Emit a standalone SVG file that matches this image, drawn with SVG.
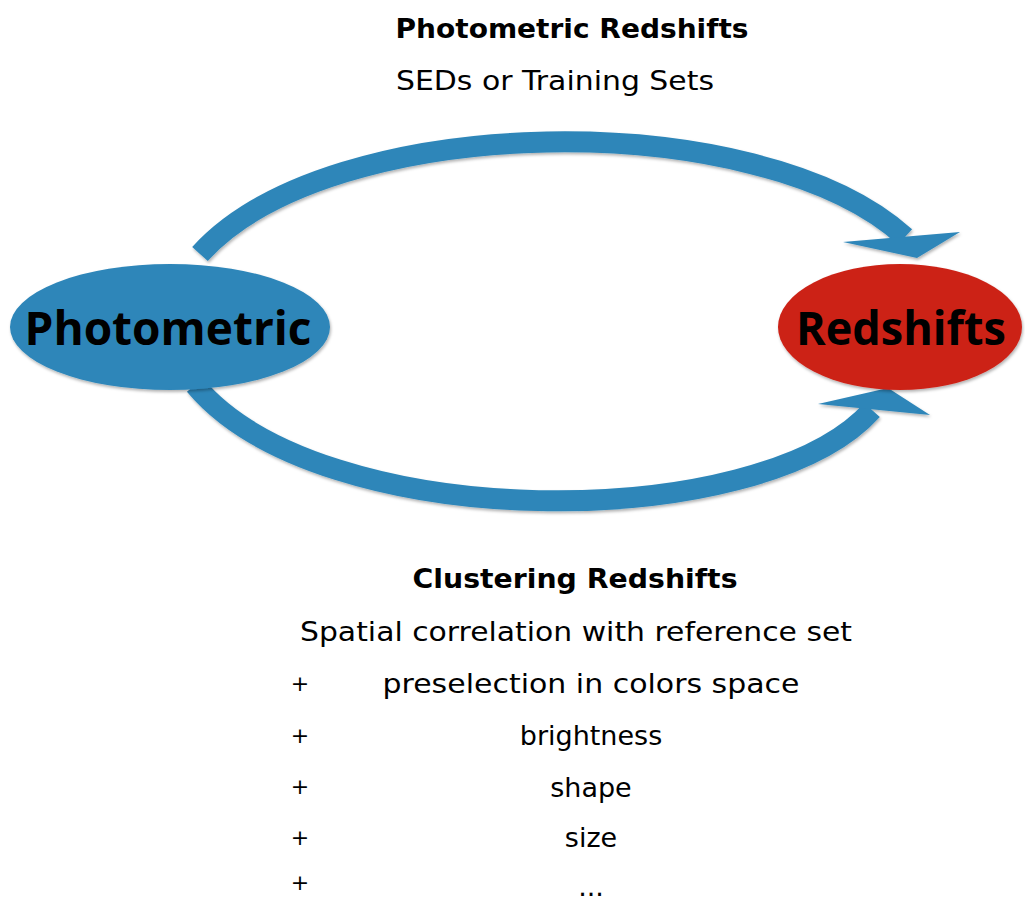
<svg xmlns="http://www.w3.org/2000/svg" width="1025" height="902" viewBox="0 0 1025 902">
<defs>
<filter id="sh" x="-5%" y="-10%" width="110%" height="125%">
<feDropShadow dx="1" dy="2" stdDeviation="1.5" flood-color="#000" flood-opacity="0.3"/>
</filter>
<style>
.arrow{fill:none;stroke:#2e86b9;stroke-width:21;stroke-linecap:butt}
.head{fill:#2e86b9}
.node-label{font-family:"Open Sans","DejaVu Sans",sans-serif;font-weight:bold;font-size:46px;fill:#000;text-anchor:middle}
.title{font-family:"DejaVu Sans","Liberation Sans",sans-serif;font-weight:bold;font-size:27px;fill:#000;text-anchor:middle}
.body{font-family:"DejaVu Sans","Liberation Sans",sans-serif;font-size:27px;fill:#000;text-anchor:middle}
.plus{font-family:"DejaVu Sans","Liberation Sans",sans-serif;font-size:22px;fill:#000;text-anchor:middle}
</style>
</defs>
<rect width="1025" height="902" fill="#fff"/>
<g id="connectors" filter="url(#sh)">
<path class="arrow" d="M 200 254 C 330 110, 760 105, 905 237"/>
<polygon class="head" points="843,242 960,232 917,258"/>
<path class="arrow" d="M 195 385 C 320 535, 760 535, 872 410"/>
<polygon class="head" points="818,404 888,388 930,415"/>
</g>
<g id="node-photometric">
<ellipse cx="170" cy="327" rx="160" ry="63" fill="#2e86b9" filter="url(#sh)"/>
<text class="node-label" x="168" y="345" textLength="287" lengthAdjust="spacingAndGlyphs">Photometric</text>
</g>
<g id="node-redshifts">
<ellipse cx="900" cy="327" rx="122" ry="63" fill="#cc2319" filter="url(#sh)"/>
<text class="node-label" x="901" y="345" textLength="210" lengthAdjust="spacingAndGlyphs">Redshifts</text>
</g>
<g id="label-photometric-redshifts">
<text class="title" x="572" y="38" textLength="353" lengthAdjust="spacingAndGlyphs">Photometric Redshifts</text>
<text class="body" x="555" y="90" textLength="318" lengthAdjust="spacingAndGlyphs">SEDs or Training Sets</text>
</g>
<g id="label-clustering-redshifts">
<text class="title" x="575" y="588" textLength="325" lengthAdjust="spacingAndGlyphs">Clustering Redshifts</text>
<text class="body" x="576" y="641" textLength="552" lengthAdjust="spacingAndGlyphs">Spatial correlation with reference set</text>
<text class="plus" x="300" y="691">+</text>
<text class="body" x="591" y="693" textLength="417" lengthAdjust="spacingAndGlyphs">preselection in colors space</text>
<text class="plus" x="300" y="743">+</text>
<text class="body" x="591" y="745">brightness</text>
<text class="plus" x="300" y="794">+</text>
<text class="body" x="591" y="797">shape</text>
<text class="plus" x="300" y="845">+</text>
<text class="body" x="591" y="847">size</text>
<text class="plus" x="300" y="890">+</text>
<text class="body" x="591" y="896">...</text>
</g>
</svg>
